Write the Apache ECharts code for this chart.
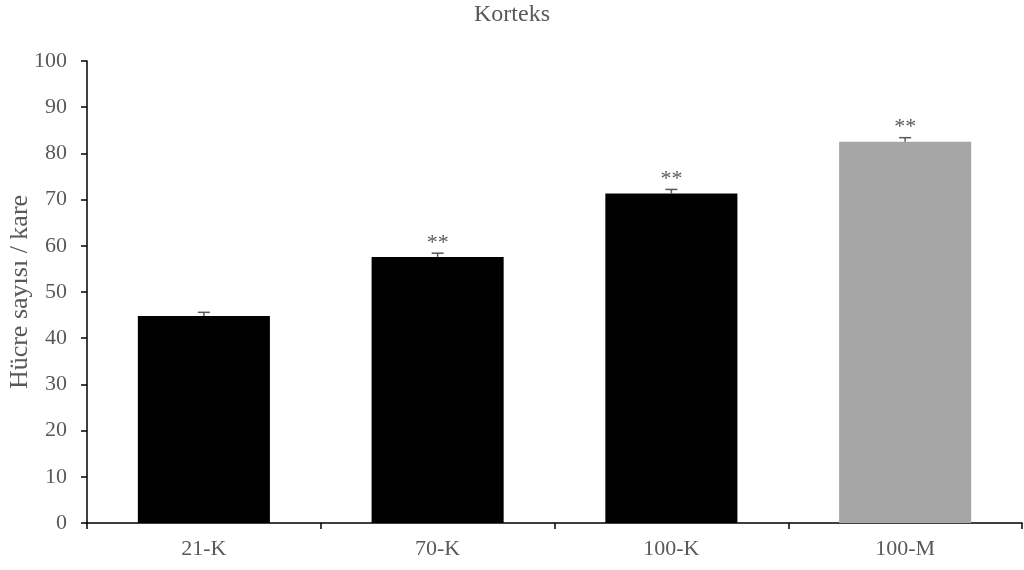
<!DOCTYPE html>
<html>
<head>
<meta charset="utf-8">
<script src="https://cdn.jsdelivr.net/npm/echarts@6/dist/echarts.min.js"></script>
<style>
html, body { margin: 0; padding: 0; background: #fff; }
#chart { width: 1024px; height: 570px; }
</style>
</head>
<body>
<div id="chart"></div>
<script>
// Cell counts per square, cortex
const categories = ['21-K', '70-K', '100-K', '100-M'];
const means = [44.8, 57.6, 71.3, 82.5];
const errors = [0.8, 0.8, 0.9, 0.9];
const significance = ['', '**', '**', '**'];
const barColors = ['#000000', '#000000', '#000000', '#a6a6a6'];
const yTicks = { min: 0, max: 100, interval: 10 };

const font = '"Liberation Serif", "Times New Roman", serif';
const textGray = '#595959';

const chart = echarts.init(document.getElementById('chart'));

chart.setOption({
  animation: false,
  title: {
    text: 'Korteks',
    left: 'center',
    top: -2,
    textStyle: { fontFamily: font, fontSize: 24, fontWeight: 'normal', color: textGray }
  },
  grid: { left: 87, right: 2, top: 61, bottom: 47, containLabel: false, outerBoundsMode: 'none' },
  xAxis: {
    type: 'category',
    data: categories,
    axisLine: { lineStyle: { color: '#000', width: 1.5 } },
    axisTick: { show: true, length: 6, alignWithLabel: false, lineStyle: { color: '#000', width: 1.5 } },
    axisLabel: { fontFamily: font, fontSize: 22, color: textGray, margin: 15 }
  },
  yAxis: {
    type: 'value',
    min: yTicks.min,
    max: yTicks.max,
    interval: yTicks.interval,
    name: 'Hücre sayısı / kare',
    nameLocation: 'middle',
    nameGap: 54,
    nameMoveOverlap: false,
    nameTextStyle: { fontFamily: font, fontSize: 26, color: textGray },
    axisLine: { show: true, lineStyle: { color: '#000', width: 1.5 } },
    axisTick: { show: true, length: 6, lineStyle: { color: '#000', width: 1.5 } },
    axisLabel: { fontFamily: font, fontSize: 22, color: textGray, margin: 20 },
    splitLine: { show: false }
  },
  series: [
    {
      type: 'bar',
      data: means.map((v, i) => ({ value: v, itemStyle: { color: barColors[i] } })),
      barWidth: '56.5%'
    },
    {
      type: 'custom',
      data: means.map((v, i) => [i, v, errors[i]]),
      z: 10,
      renderItem: function (params, api) {
        const idx = api.value(0);
        const top = api.coord([idx, api.value(1) + api.value(2)]);
        const base = api.coord([idx, api.value(1)]);
        const cap = 6;
        const children = [
          { type: 'line', shape: { x1: top[0], y1: top[1], x2: top[0], y2: base[1] },
            style: { stroke: '#595959', lineWidth: 1.5 } },
          { type: 'line', shape: { x1: top[0] - cap, y1: top[1], x2: top[0] + cap, y2: top[1] },
            style: { stroke: '#595959', lineWidth: 1.5 } }
        ];
        const sig = significance[params.dataIndex];
        if (sig) {
          children.push({
            type: 'text',
            style: {
              text: sig, x: top[0], y: top[1] - 10,
              align: 'center', verticalAlign: 'middle',
              font: '22px ' + font, fill: textGray
            }
          });
        }
        return { type: 'group', children: children };
      }
    }
  ]
});
</script>
</body>
</html>
